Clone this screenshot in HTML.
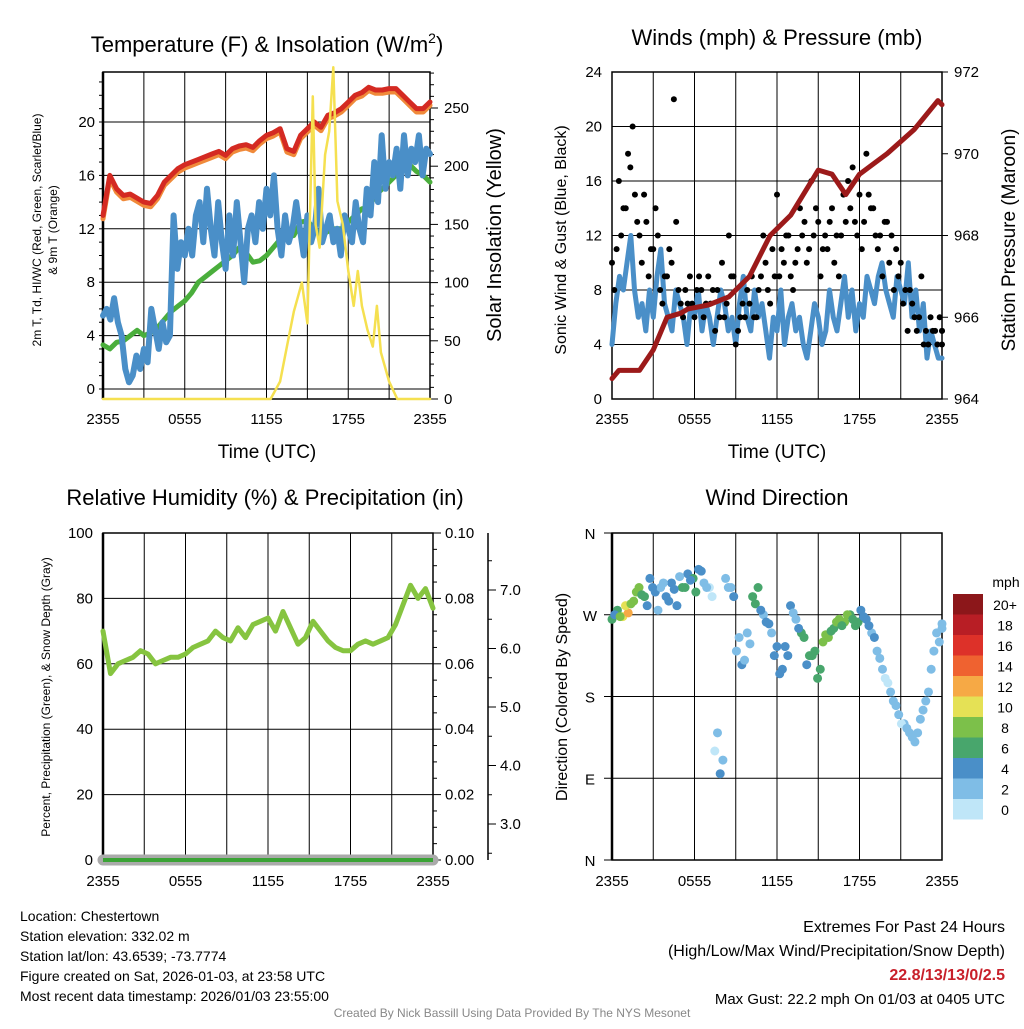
<!DOCTYPE html>
<html><head><meta charset="utf-8"><style>
body{margin:0;background:#fff;width:1024px;height:1024px;overflow:hidden;font-family:"Liberation Sans",sans-serif}
svg text{font-family:"Liberation Sans",sans-serif;fill:#000}
</style></head><body>
<svg id="s" width="1024" height="1024" xmlns="http://www.w3.org/2000/svg"></svg>
<script>
const xTickLabels=["2355","0555","1155","1755","2355"];
const tempT=[13,16,15,14.5,14.6,14.3,14,13.9,14.5,15.5,16,16.5,16.8,17,17.2,17.4,17.6,17.8,17.5,18,18.2,18.3,18.1,18.6,19,19.2,19.5,18,17.8,19,19.5,20,19.6,20.5,20.7,21,21.5,22,22.2,22.6,22.4,22.4,22.5,22.5,22,21.5,21,21,21.5];
const tempDew=[3.3,3,3.5,3.6,4,4.4,4,4.2,4.6,5.2,5.8,6.2,6.6,7.2,8,8.4,8.8,9.2,9.6,10,10.6,10.2,9.5,9.6,10,10.6,11.2,11.4,11.5,12.5,12.6,12,11.5,11.8,12,12,12.5,13,13.5,13.6,14.5,15,15.5,16,16.8,16.8,16.3,16,15.5];
const tempWC=[5.5,6,5.2,6.8,5,4,1.5,0.5,1,2.5,1.5,3,2,6,4.5,3,5,3.5,4,13,9,11,10,12,10,13,14,11,15,12,10,14,11,9,13,10,14,11,8,12,13,11,14,12,15,13,16,12,10,13,11,12,14,12,10,13,11,12,15,11,12,13,11,12,10,13,12,11,14,12,11,15,13,17,14,19,15,17,16,18,15,19,16,18,17,19,16,18,17.6];
const solarHours=[0,12.3,13,13.5,14,14.6,15,15.4,15.6,15.9,16.3,16.6,16.9,17.2,17.6,18,18.4,18.7,19,19.4,19.8,20.1,20.4,21,21.6,24];
const solarVals=[0,0,15,45,75,100,65,260,150,130,210,230,285,170,150,110,80,110,80,60,45,80,40,15,0,0];
const pressHours=[0,0.5,2,3,4,5,5.5,7,8.5,10,11.5,13,15,16,17,18,20,22,23.7,24];
const pressVals=[964.5,964.7,964.7,965.2,966,966.1,966.2,966.3,966.5,967,968,968.5,969.6,969.5,969,969.5,970,970.6,971.3,971.2];
const wind=[4,7,9,8,10,12,8,6,7,5,8,6,9,11,7,6,5,8,7,6,4,7,6,8,5,7,6,4,6,8,7,5,6,4,7,9,6,5,8,6,7,5,3,6,5,8,4,6,7,5,6,4,3,5,7,6,4,5,8,6,5,7,9,6,8,5,7,6,9,8,7,9,10,8,7,6,9,8,7,10,6,8,5,7,3,5,4,3,3];
const gust=[10,16,14,20,12,13,11,8,9,22,7,7,6,8,9,5,10,12,4,7,7,6,12,7,15,10,9,11,13,16,13,12,14,9,13,17,15,18,14,12,13,8,10,5,6,9,4,5,5];
const gust2=[8,12,18,15,10,9,14,7,11,13,6,9,8,6,7,8,6,9,5,6,9,8,10,11,9,12,8,14,10,12,9,11,10,12,16,13,11,15,12,9,10,11,7,8,5,4,6,4,5];
const gust3=[11,14,17,13,15,11,12,9,10,8,8,7,9,7,8,6,7,9,6,8,6,9,8,9,11,12,10,12,11,14,11,13,12,15,14,12,13,14,11,13,12,9,8,7,6,5,5,6,4];
const rh=[70,57,60,61,62,64,63,60,61,62,62,63,65,66,67,70,68,67,71,68,72,73,74,70,76,71,66,68,73,70,67,65,64,64,66,67,66,67,68,72,78,84,80,83,77];
const dirVals=[265,275,268,272,285,300,290,310,295,300,290,305,280,300,315,310,320,305,300,120,95,310,300,230,215,250,290,300,270,260,225,205,235,280,265,250,215,225,200,240,245,255,265,262,270,258,275,265,250,230,210,195,175,160,150,140,130,155,175,210,250,260];
const dirSpeed=[6,7,10,12,9,8,6,5,4,3,4,4,4,6,5,7,4,2,1,1,4,2,3,3,4,2,6,6,3,4,4,4,5,4,3,6,5,7,6,8,8,7,8,9,7,6,5,4,3,2,2,1,3,2,2,2,2,2,2,3,3,2];
const dirVals2=[270,268,280,282,295,292,280,300,275,305,285,298,312,300,308,295,318,300,290,140,110,300,290,245,220,238,282,275,262,250,235,210,225,272,255,245,225,230,210,248,252,262,258,270,265,262,268,258,245,222,200,185,170,150,145,135,140,165,185,230,240,255];
const dirSpeed2=[5,8,11,9,8,7,5,4,3,2,4,5,3,7,4,6,5,2,1,2,3,2,4,2,3,2,7,5,4,3,4,5,4,3,4,7,6,6,7,8,7,8,7,8,6,7,4,5,4,2,1,2,2,1,2,2,2,3,2,2,3,2];
const cbLabels=["20+","18","16","14","12","10","8","6","4","2","0"];
const cbColors=["#8c171a","#b81e25","#dd3129","#ef6230","#f6a945","#e5e155","#7cc04a","#48a66c","#4a8fc8","#7fbde6","#bfe6f8"];

const S=document.getElementById('s');
const NS="http://www.w3.org/2000/svg";
function mk(tag,attrs,parent){const e=document.createElementNS(NS,tag);for(const k in attrs)e.setAttribute(k,attrs[k]);(parent||S).appendChild(e);return e;}
function txt(x,y,t,size,anchor,rot){const e=mk('text',{x:x,y:y,'font-size':size,'text-anchor':anchor||'middle'});if(rot)e.setAttribute('transform','rotate(-90 '+x+' '+y+')');e.textContent=t;return e;}
function colorFor(v){const i=Math.min(10,Math.floor(v/2));return cbColors[10-i];}

function panel(L,T,R,B){
  const g=mk('g',{});
  for(let i=0;i<=8;i++){const x=L+i*(R-L)/8;mk('line',{x1:x,y1:T,x2:x,y2:B,stroke:'#000','stroke-width':1},g);}
  return g;
}
function hx(L,R,h){return L+h/24*(R-L);}
function poly(pts,stroke,w,name){const p=mk('polyline',{points:pts.map(p=>p[0].toFixed(1)+','+p[1].toFixed(1)).join(' '),fill:'none',stroke:stroke,'stroke-width':w,'stroke-linejoin':'round','stroke-linecap':'round'});


return p;}
function xLabels(L,R,y){xTickLabels.forEach((t,i)=>{const e=txt(L+i*(R-L)/4,y,t,15);

});}

// ===== Panel 1 Temperature
{const L=103,R=430,T=72,B=399;
const yT=v=>389-v*(389-122)/20, yS=v=>399-v*(399-108)/250;
const g=panel(L,T,R,B);


for(let v=0;v<=20;v+=4){mk('line',{x1:L,y1:yT(v),x2:R,y2:yT(v),stroke:'#000','stroke-width':1});const e=txt(L-8,yT(v)+5,String(v),15,'end');

}
for(let v=-2;v<=24;v+=1){if(yT(v)>T&&yT(v)<B)mk('line',{x1:L-4,y1:yT(v),x2:L,y2:yT(v),stroke:'#000'});}
for(let v=0;v<=285;v+=10){const y=yS(v);if(y>=T){mk('line',{x1:R,y1:y,x2:R+(v%50==0?8:4),y2:y,stroke:'#000'});}}
for(let v=0;v<=250;v+=50){const e=txt(R+14,yS(v)+5,String(v),15,'start');

}
mk('rect',{x:L,y:T,width:R-L,height:B-T,fill:'none',stroke:'#000','stroke-width':1.5});
mk('line',{x1:L,y1:T,x2:L,y2:B,stroke:'#000','stroke-width':2.5});
const n=tempT.length;
poly(tempT.map((v,i)=>[hx(L,R,i/(n-1)*24),yT(v-0.25)]),'#f08a3a',5,'9m-temp-line');
poly(tempT.map((v,i)=>[hx(L,R,i/(n-1)*24),yT(v)]),'#d42a22',5,'2m-temp-line');
poly(tempDew.map((v,i)=>[hx(L,R,i/(tempDew.length-1)*24),yT(v)]),'#4aae3c',5,'dewpoint-line');
poly(tempWC.map((v,i)=>[hx(L,R,i/(tempWC.length-1)*24),yT(v)]),'#4a8fc8',6,'windchill-line');
poly(solarHours.map((h,i)=>[hx(L,R,h),yS(solarVals[i])]),'#f5e050',2.5,'solar-line');
xLabels(L,R,424);
let e=txt(267,52,'',22);e.innerHTML='Temperature (F) &amp; Insolation (W/m<tspan dy="-9" font-size="14">2</tspan><tspan dy="9">)</tspan>';


e=txt(267,458,'Time (UTC)',19);


e=txt(41,230,'2m T, Td, HI/WC (Red, Green, Scarlet/Blue)',12,'middle',true);


e=txt(57,230,'& 9m T (Orange)',12,'middle',true);


e=txt(501,235,'Solar Insolation (Yellow)',20,'middle',true);

}

// ===== Panel 2 Winds
{const L=612,R=942,T=72,B=399;
const yW=v=>B-v*(B-T)/24, yP=v=>B-(v-964)*(B-T)/8;
const g=panel(L,T,R,B);


for(let v=0;v<=24;v+=4){mk('line',{x1:L,y1:yW(v),x2:R,y2:yW(v),stroke:'#000'});const e=txt(L-10,yW(v)+5,String(v),15,'end');

}
for(let v=964;v<=972;v+=2){const e=txt(R+12,yP(v)+5,String(v),15,'start');

mk('line',{x1:R,y1:yP(v),x2:R+6,y2:yP(v),stroke:'#000'});}
mk('rect',{x:L,y:T,width:R-L,height:B-T,fill:'none',stroke:'#000','stroke-width':1.5});
poly(wind.map((v,i)=>[hx(L,R,i/(wind.length-1)*24),yW(v)]),'#4a8fc8',5,'sonic-wind-line');
[gust,gust2,gust3].forEach((arr,k)=>arr.forEach((v,i)=>{const c=mk('circle',{cx:hx(L,R,Math.min(24,(i+k/3)/(arr.length-1)*24)),cy:yW(v),r:3,fill:'#000'});

}));
poly(pressHours.map((h,i)=>[hx(L,R,h),yP(pressVals[i])]),'#9c1a1a',5,'pressure-line');
xLabels(L,R,424);
let e=txt(777,45,'Winds (mph) & Pressure (mb)',22);


e=txt(777,458,'Time (UTC)',19);


e=txt(566,240,'Sonic Wind & Gust (Blue, Black)',16,'middle',true);


e=txt(1015,240,'Station Pressure (Maroon)',19,'middle',true);

}

// ===== Panel 3 RH
{const L=103,R=433,T=533,B=860;
const yR=v=>B-v*(B-T)/100;
const g=panel(L,T,R,B);


for(let v=0;v<=100;v+=20){mk('line',{x1:L,y1:yR(v),x2:R,y2:yR(v),stroke:'#000'});const e=txt(L-10,yR(v)+5,String(v),15,'end');

}
for(let v=0;v<=100;v+=5)mk('line',{x1:R,y1:yR(v),x2:R+(v%20==0?8:4),y2:yR(v),stroke:'#000'});
["0.00","0.02","0.04","0.06","0.08","0.10"].forEach((t,i)=>{const e=txt(R+12,yR(i*20)+5,t,15,'start');

});
mk('line',{x1:488,y1:T,x2:488,y2:B,stroke:'#000','stroke-width':1.5});
const ySn=v=>590+(7-v)*58.5;
for(let v=2.5;v<=7.8;v+=0.5){const y=ySn(v);if(y>T&&y<B)mk('line',{x1:488,y1:y,x2:488+(v%1==0?8:4),y2:y,stroke:'#000'});}
["7.0","6.0","5.0","4.0","3.0"].forEach(t=>{const e=txt(500,ySn(parseFloat(t))+5,t,15,'start');

});
mk('rect',{x:L,y:T,width:R-L,height:B-T,fill:'none',stroke:'#000','stroke-width':1.5});
mk('line',{x1:L,y1:T,x2:L,y2:B,stroke:'#000','stroke-width':2.5});
let p=mk('line',{x1:L,y1:B,x2:R,y2:B,stroke:'#aaa','stroke-width':11,'stroke-linecap':'round'});


p=mk('line',{x1:L,y1:B,x2:R,y2:B,stroke:'#3aa335','stroke-width':4});


poly(rh.map((v,i)=>[hx(L,R,i/(rh.length-1)*24),yR(v)]),'#86c440',5,'rh-line');
xLabels(L,R,886);
let e=txt(265,505,'Relative Humidity (%) & Precipitation (in)',22);


e=txt(50,697,'Percent, Precipitation (Green), & Snow Depth (Gray)',12,'middle',true);

}

// ===== Panel 4 Wind direction
{const L=612,R=942,T=533,B=860;
const yD=v=>B-v/360*(B-T);
const g=panel(L,T,R,B);


["N","E","S","W","N"].forEach((t,i)=>{const y=yD(i*90);mk('line',{x1:L-8,y1:y,x2:R,y2:y,stroke:'#000'});const e=txt(590,y+6,t,15,'middle');

});
mk('rect',{x:L,y:T,width:R-L,height:B-T,fill:'none',stroke:'#000','stroke-width':1.5});
mk('line',{x1:L,y1:T,x2:L,y2:B,stroke:'#000','stroke-width':2.5});
[[dirVals,dirSpeed,0],[dirVals2,dirSpeed2,0.5]].forEach(([dv,sp,off])=>dv.forEach((d,i)=>{const c=mk('circle',{cx:hx(L,R,Math.min(24,(i+off)/(dv.length-1)*24)),cy:yD(d),r:4.5,fill:colorFor(sp[i])});

}));
xLabels(L,R,886);
let e=txt(777,505,'Wind Direction',22);


e=txt(567,697,'Direction (Colored By Speed)',16,'middle',true);


cbColors.forEach((c,i)=>{const r=mk('rect',{x:953,y:594+i*20.5,width:30,height:20.5,fill:c});


const t=txt(1005,594+i*20.5+16,cbLabels[i],14,'middle');

});
e=txt(1006,587,'mph',14,'middle');

}
</script>
<div style="position:absolute;left:20px;top:906px;font-size:14px;line-height:20px">
Location: Chestertown<br>Station elevation: 332.02 m<br>Station lat/lon: 43.6539; -73.7774<br>Figure created on Sat, 2026-01-03, at 23:58 UTC<br>Most recent data timestamp: 2026/01/03 23:55:00</div>
<div style="position:absolute;right:19px;top:916px;font-size:16px;line-height:24px;text-align:right">
Extremes For Past 24 Hours<br>(High/Low/Max Wind/Precipitation/Snow Depth)<br><b style="color:#c8202a">22.8/13/13/0/2.5</b><br><span style="font-size:15px">Max Gust: 22.2 mph On 01/03 at 0405 UTC</span></div>
<div style="position:absolute;left:0;width:1024px;top:1006px;text-align:center;font-size:12px;color:#888">Created By Nick Bassill Using Data Provided By The NYS Mesonet</div>
</body></html>
